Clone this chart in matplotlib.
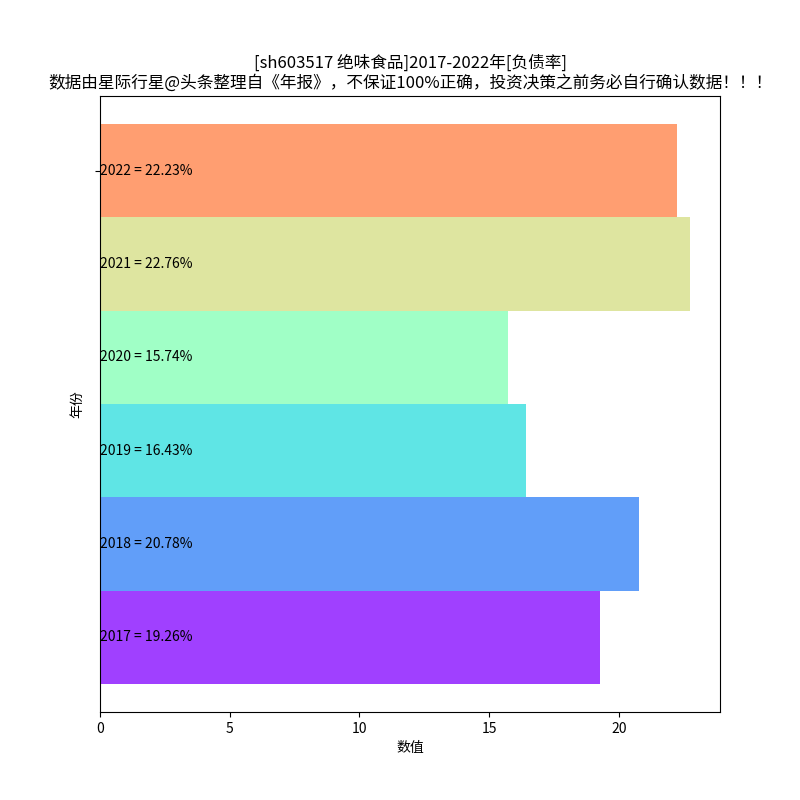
import numpy as np
import matplotlib
matplotlib.use('Agg')
import matplotlib.pyplot as plt

plt.rcParams['font.family'] = ['Noto Sans CJK SC', 'DejaVu Sans']
plt.rcParams['axes.unicode_minus'] = False

years = ['2017', '2018', '2019', '2020', '2021', '2022']
values = [19.26, 20.78, 16.43, 15.74, 22.76, 22.23]

colors = plt.cm.rainbow(np.arange(len(years)) / len(years))

fig, ax = plt.subplots(figsize=(8, 8), dpi=100)
pos = np.arange(len(years))
ax.barh(pos, values, height=1.0, color=colors, alpha=0.75)

# labels sit inside the bars, starting at x=0
for p, y, v in zip(pos, years, values):
    ax.text(0, p, f'{y} = {v:.2f}%', va='center', ha='left', fontsize=10)

ax.set_yticks([pos[-1]])
ax.set_yticklabels([''])
ax.set_xlabel('数值')
ax.set_ylabel('年份')
ax.set_title('[sh603517 绝味食品]2017-2022年[负债率]\n'
             '数据由星际行星@头条整理自《年报》，不保证100%正确，投资决策之前务必自行确认数据！！！')

plt.savefig('out.png')
